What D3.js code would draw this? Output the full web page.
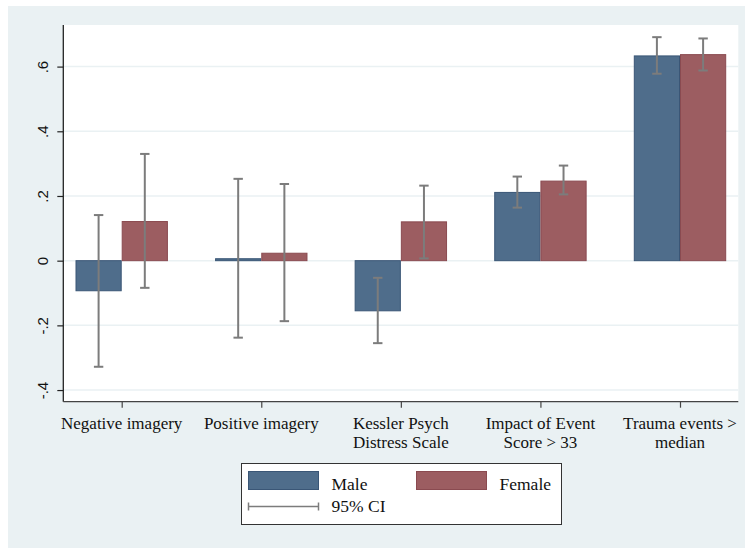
<!DOCTYPE html>
<html>
<head>
<meta charset="utf-8">
<script src="https://cdn.jsdelivr.net/npm/d3@7"></script>
<style>
  body { margin: 0; background: #ffffff; }
  svg { display: block; }
</style>
</head>
<body>
<svg id="chart"></svg>
<script>
"use strict";

const width = 745;
const height = 548;

// data
const categories = ["Negative imagery", "Positive imagery", "Kessler Psych Distress Scale",
    "Impact of Event Score > 33", "Trauma events > median"];
const category_lines = [
    ["Negative imagery"],
    ["Positive imagery"],
    ["Kessler Psych", "Distress Scale"],
    ["Impact of Event", "Score > 33"],
    ["Trauma events >", "median"]
];
const groups = ["Male", "Female"];

const male_mean = [-0.093, 0.006, -0.155, 0.211, 0.633];
const male_low = [-0.328, -0.238, -0.255, 0.164, 0.578];
const male_high = [0.141, 0.253, -0.053, 0.260, 0.691];

const female_mean = [0.121, 0.023, 0.120, 0.246, 0.637];
const female_low = [-0.084, -0.187, 0.007, 0.205, 0.588];
const female_high = [0.330, 0.237, 0.232, 0.294, 0.687];

const y_ticks = [-0.4, -0.2, 0, 0.2, 0.4, 0.6];
const y_tick_labels = ["-.4", "-.2", "0", ".2", ".4", ".6"];

const colors = {
    Male: { fill: "#4f6d8b", stroke: "#3a5676" },
    Female: { fill: "#9c5d61", stroke: "#8a4a50" }
};
const ci_color = "#7c7c7c";
const bg_color = "#eaf1f3";
const serif = "'Liberation Serif', 'Times New Roman', serif";

// plot region
const plot = { left: 63.3, right: 738.3, top: 25, bottom: 401.7 };

const svg = d3.select("#chart")
    .attr("width", width)
    .attr("height", height);

// outer region
svg.append("rect")
    .attr("x", 8).attr("y", 6)
    .attr("width", width - 8).attr("height", height - 6)
    .attr("fill", bg_color);

svg.append("rect")
    .attr("x", plot.left).attr("y", plot.top)
    .attr("width", plot.right - plot.left).attr("height", plot.bottom - plot.top)
    .attr("fill", "#ffffff");

// scales
const x = d3.scalePoint()
    .domain(categories)
    .range([121.7, 680]);

const xGroup = d3.scaleBand()
    .domain(groups)
    .range([-46.2, 46.2]);

const y = d3.scaleLinear()
    .domain([-0.436, 0.7286])
    .range([plot.bottom, plot.top]);

// gridlines
svg.append("g")
    .selectAll("line")
    .data(y_ticks)
    .enter()
    .append("line")
    .attr("x1", plot.left)
    .attr("x2", plot.right)
    .attr("y1", d => y(d))
    .attr("y2", d => y(d))
    .attr("stroke", bg_color)
    .attr("stroke-width", 1.5);

// build rows
const rows = [];
categories.forEach((c, i) => {
    rows.push({ cat: c, group: "Male", mean: male_mean[i], low: male_low[i], high: male_high[i] });
    rows.push({ cat: c, group: "Female", mean: female_mean[i], low: female_low[i], high: female_high[i] });
});

// bars
svg.append("g")
    .selectAll("rect")
    .data(rows)
    .enter()
    .append("rect")
    .attr("x", d => x(d.cat) + xGroup(d.group) + 0.5)
    .attr("width", xGroup.bandwidth() - 1)
    .attr("y", d => Math.min(y(d.mean), y(0)))
    .attr("height", d => Math.max(Math.abs(y(d.mean) - y(0)), 0.5))
    .attr("fill", d => colors[d.group].fill)
    .attr("stroke", d => colors[d.group].stroke)
    .attr("stroke-width", 1);

// confidence intervals
const ci = svg.append("g")
    .selectAll("g")
    .data(rows)
    .enter()
    .append("g")
    .attr("stroke", ci_color)
    .attr("stroke-width", 2);

const cx = d => x(d.cat) + xGroup(d.group) + xGroup.bandwidth() / 2;
const cap = 4.7;

ci.append("line")
    .attr("x1", cx).attr("x2", cx)
    .attr("y1", d => y(d.high)).attr("y2", d => y(d.low));
ci.append("line")
    .attr("x1", d => cx(d) - cap).attr("x2", d => cx(d) + cap)
    .attr("y1", d => y(d.high)).attr("y2", d => y(d.high));
ci.append("line")
    .attr("x1", d => cx(d) - cap).attr("x2", d => cx(d) + cap)
    .attr("y1", d => y(d.low)).attr("y2", d => y(d.low));

// y axis
const yAxis = svg.append("g")
    .attr("transform", `translate(${plot.left},0)`)
    .call(d3.axisLeft(y)
        .tickValues(y_ticks)
        .tickFormat((d, i) => y_tick_labels[i])
        .tickSize(6)
        .tickPadding(0));

yAxis.select(".domain")
    .attr("d", `M0,${plot.top}V${plot.bottom}`)
    .attr("stroke", "#222")
    .attr("stroke-width", 1.3);
yAxis.selectAll(".tick line").attr("stroke", "#222").attr("stroke-width", 1.2);
yAxis.selectAll(".tick text")
    .attr("x", null).attr("dy", null)
    .attr("transform", "translate(-15.5,0) rotate(-90)")
    .attr("text-anchor", "middle")
    .style("font-family", "'Liberation Sans', Arial, sans-serif")
    .style("font-size", "15px")
    .attr("fill", "#111");

// x axis
const xAxis = svg.append("g")
    .attr("transform", `translate(0,${plot.bottom})`)
    .call(d3.axisBottom(x).tickSize(6).tickFormat(""));

xAxis.select(".domain")
    .attr("d", `M${plot.left},0H${plot.right}`)
    .attr("stroke", "#444")
    .attr("stroke-width", 1.3);
xAxis.selectAll(".tick line").attr("stroke", "#444").attr("stroke-width", 1.2);

// category labels, one text per line
const label_rows = [];
category_lines.forEach((lines, i) => {
    lines.forEach((line, j) => label_rows.push({ cat: categories[i], line: line, j: j }));
});

svg.append("g")
    .selectAll("text")
    .data(label_rows)
    .enter()
    .append("text")
    .attr("text-anchor", "middle")
    .attr("x", d => x(d.cat))
    .attr("y", d => 429 + d.j * 18.5)
    .text(d => d.line)
    .style("font-family", serif)
    .style("font-size", "17px")
    .attr("fill", "#111");

// legend
const legend = svg.append("g");

legend.append("rect")
    .attr("x", 241.5).attr("y", 463.5)
    .attr("width", 320).attr("height", 61)
    .attr("fill", "#ffffff")
    .attr("stroke", "#333")
    .attr("stroke-width", 1);

const legend_items = [
    { group: "Male", x: 248.5, tx: 331.5 },
    { group: "Female", x: 416.5, tx: 499.5 }
];

legend.selectAll("rect.key")
    .data(legend_items)
    .enter()
    .append("rect")
    .attr("class", "key")
    .attr("x", d => d.x).attr("y", 471.5)
    .attr("width", 70).attr("height", 18)
    .attr("fill", d => colors[d.group].fill)
    .attr("stroke", d => colors[d.group].stroke);

legend.selectAll("text.key")
    .data(legend_items)
    .enter()
    .append("text")
    .attr("class", "key")
    .attr("x", d => d.tx).attr("y", 490)
    .text(d => d.group)
    .style("font-family", serif)
    .style("font-size", "17.5px")
    .attr("fill", "#111");

const ci_key = legend.append("g")
    .attr("stroke", ci_color)
    .attr("stroke-width", 1.5);
ci_key.append("line").attr("x1", 248.5).attr("x2", 318.5).attr("y1", 506.5).attr("y2", 506.5);
ci_key.append("line").attr("x1", 248.5).attr("x2", 248.5).attr("y1", 502.5).attr("y2", 510.5);
ci_key.append("line").attr("x1", 318.5).attr("x2", 318.5).attr("y1", 502.5).attr("y2", 510.5);

legend.append("text")
    .attr("x", 331.5).attr("y", 512)
    .text("95% CI")
    .style("font-family", serif)
    .style("font-size", "17.5px")
    .attr("fill", "#111");
</script>
</body>
</html>
